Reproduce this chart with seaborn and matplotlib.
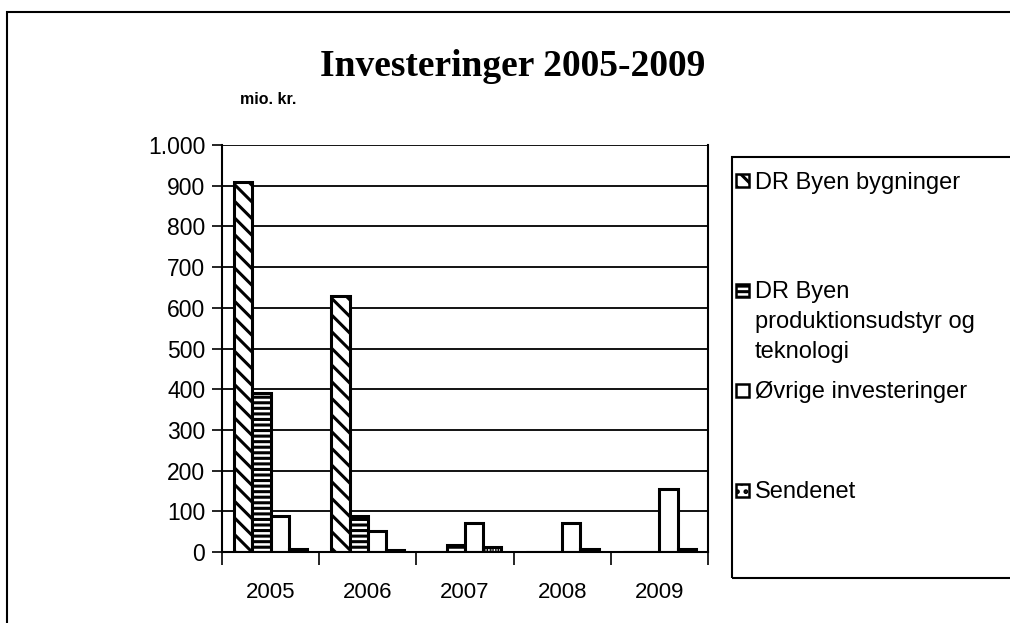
import matplotlib
matplotlib.use("Agg")
import matplotlib.pyplot as plt
import matplotlib.patches as mpatches
import seaborn as sns
import pandas as pd
from matplotlib.ticker import FuncFormatter, FixedLocator

# ---- data ----
years = ["2005", "2006", "2007", "2008", "2009"]
series_names = ["DR Byen bygninger",
                "DR Byen produktionsudstyr og teknologi",
                "Øvrige investeringer",
                "Sendenet"]
legend_labels = [["DR Byen bygninger"],
                 ["DR Byen", "produktionsudstyr og", "teknologi"],
                 ["Øvrige investeringer"],
                 ["Sendenet"]]
byen_bygninger = [910, 630, 0, 0, 0]
byen_produktion = [390, 88, 17, 0, 0]
oevrige = [88, 52, 71, 71, 154]
sendenet = [8, 6, 12, 8, 8]
y_ticks = [0, 100, 200, 300, 400, 500, 600, 700, 800, 900, 1000]
title = "Investeringer 2005-2009"
unit_label = "mio. kr."

rows = []
for name, vals in zip(series_names, [byen_bygninger, byen_produktion, oevrige, sendenet]):
    for y, v in zip(years, vals):
        rows.append({"year": y, "value": v, "series": name})
df = pd.DataFrame(rows)

sns.set_style("white")
plt.rcParams["font.family"] = ["Liberation Sans", "DejaVu Sans"]
plt.rcParams["hatch.linewidth"] = 2.2
for k in ["text.color", "axes.labelcolor", "xtick.color", "ytick.color"]:
    plt.rcParams[k] = "black"

W, H = 1010, 623
fig = plt.figure(figsize=(W / 100, H / 100), dpi=100)
ax = fig.add_axes([222 / W, 1 - 552 / H, (708 - 222) / W, (552 - 145) / H])

hatches = ["\\\\", "---", "", "..."]
sns.barplot(data=df, x="year", y="value", hue="series", hue_order=series_names,
            order=years, palette=["white"] * 4, edgecolor="black", linewidth=2.2,
            width=0.75, gap=0, saturation=1, legend=False, ax=ax, errorbar=None)
for cont, h in zip(ax.containers, hatches):
    for p in cont.patches:
        p.set_hatch(h)
        p.set_facecolor("white")
        p.set_edgecolor("black")

ax.set_ylim(0, 1000)
ax.set_xlim(-0.5, 4.5)
ax.set_yticks(y_ticks)
ax.yaxis.set_major_formatter(FuncFormatter(lambda v, p: f"{int(v):,}".replace(",", ".")))
ax.set_xlabel("")
ax.set_ylabel("")
for yv in y_ticks[1:]:
    ax.axhline(yv, color="black", linewidth=1.3, zorder=0.5)

for s in ["left", "bottom", "right"]:
    ax.spines[s].set_visible(True)
    ax.spines[s].set_color("black")
    ax.spines[s].set_linewidth(1.5)
ax.spines["top"].set_visible(False)

ax.tick_params(axis="y", which="major", left=True, length=7, width=1.2,
               color="black", labelsize=16.5, pad=5, labelcolor="black")
ax.xaxis.set_minor_locator(FixedLocator([-0.5, 0.5, 1.5, 2.5, 3.5, 4.5]))
ax.tick_params(axis="x", which="minor", bottom=True, length=9, width=1.2, color="black")
ax.tick_params(axis="x", which="major", bottom=False, labelsize=16, pad=18,
               labelcolor="black")

# title and unit
fig.text(513 / W, 1 - 66 / H, title, ha="center", va="center", color="black",
         family=["Liberation Serif", "DejaVu Serif"], fontweight="bold", fontsize=27)
fig.text(240 / W, 1 - 100 / H, unit_label, ha="left", va="center", color="black",
         fontweight="bold", fontsize=11.5)

# outer border
fig.add_artist(mpatches.Rectangle((7 / W, -0.2), 1.2, (1 - 12 / H) + 0.2,
                                  transform=fig.transFigure, fill=False,
                                  edgecolor="black", linewidth=1.5, clip_on=False))

# legend box
lt, lb = 157, 578
fig.add_artist(mpatches.Rectangle((732 / W, 1 - lb / H), 1.0, (lb - lt) / H,
                                  transform=fig.transFigure, fill=False,
                                  edgecolor="black", linewidth=1.5, clip_on=False))
entry_y = [181, 290, 390, 490]
leg_hatches = ["\\\\", "---", "", ".."]
for lines, ey, h in zip(legend_labels, entry_y, leg_hatches):
    sq = 13
    fig.add_artist(mpatches.Rectangle((736 / W, 1 - (ey + sq / 2) / H), sq / W, sq / H,
                                      transform=fig.transFigure, facecolor="white",
                                      edgecolor="black", linewidth=1.8, hatch=h))
    for i, line in enumerate(lines):
        fig.text(755 / W, 1 - (ey + 8 + 30 * i) / H, line, ha="left", va="baseline",
                 fontsize=17, color="black")

fig.savefig("out.png", dpi=100)
